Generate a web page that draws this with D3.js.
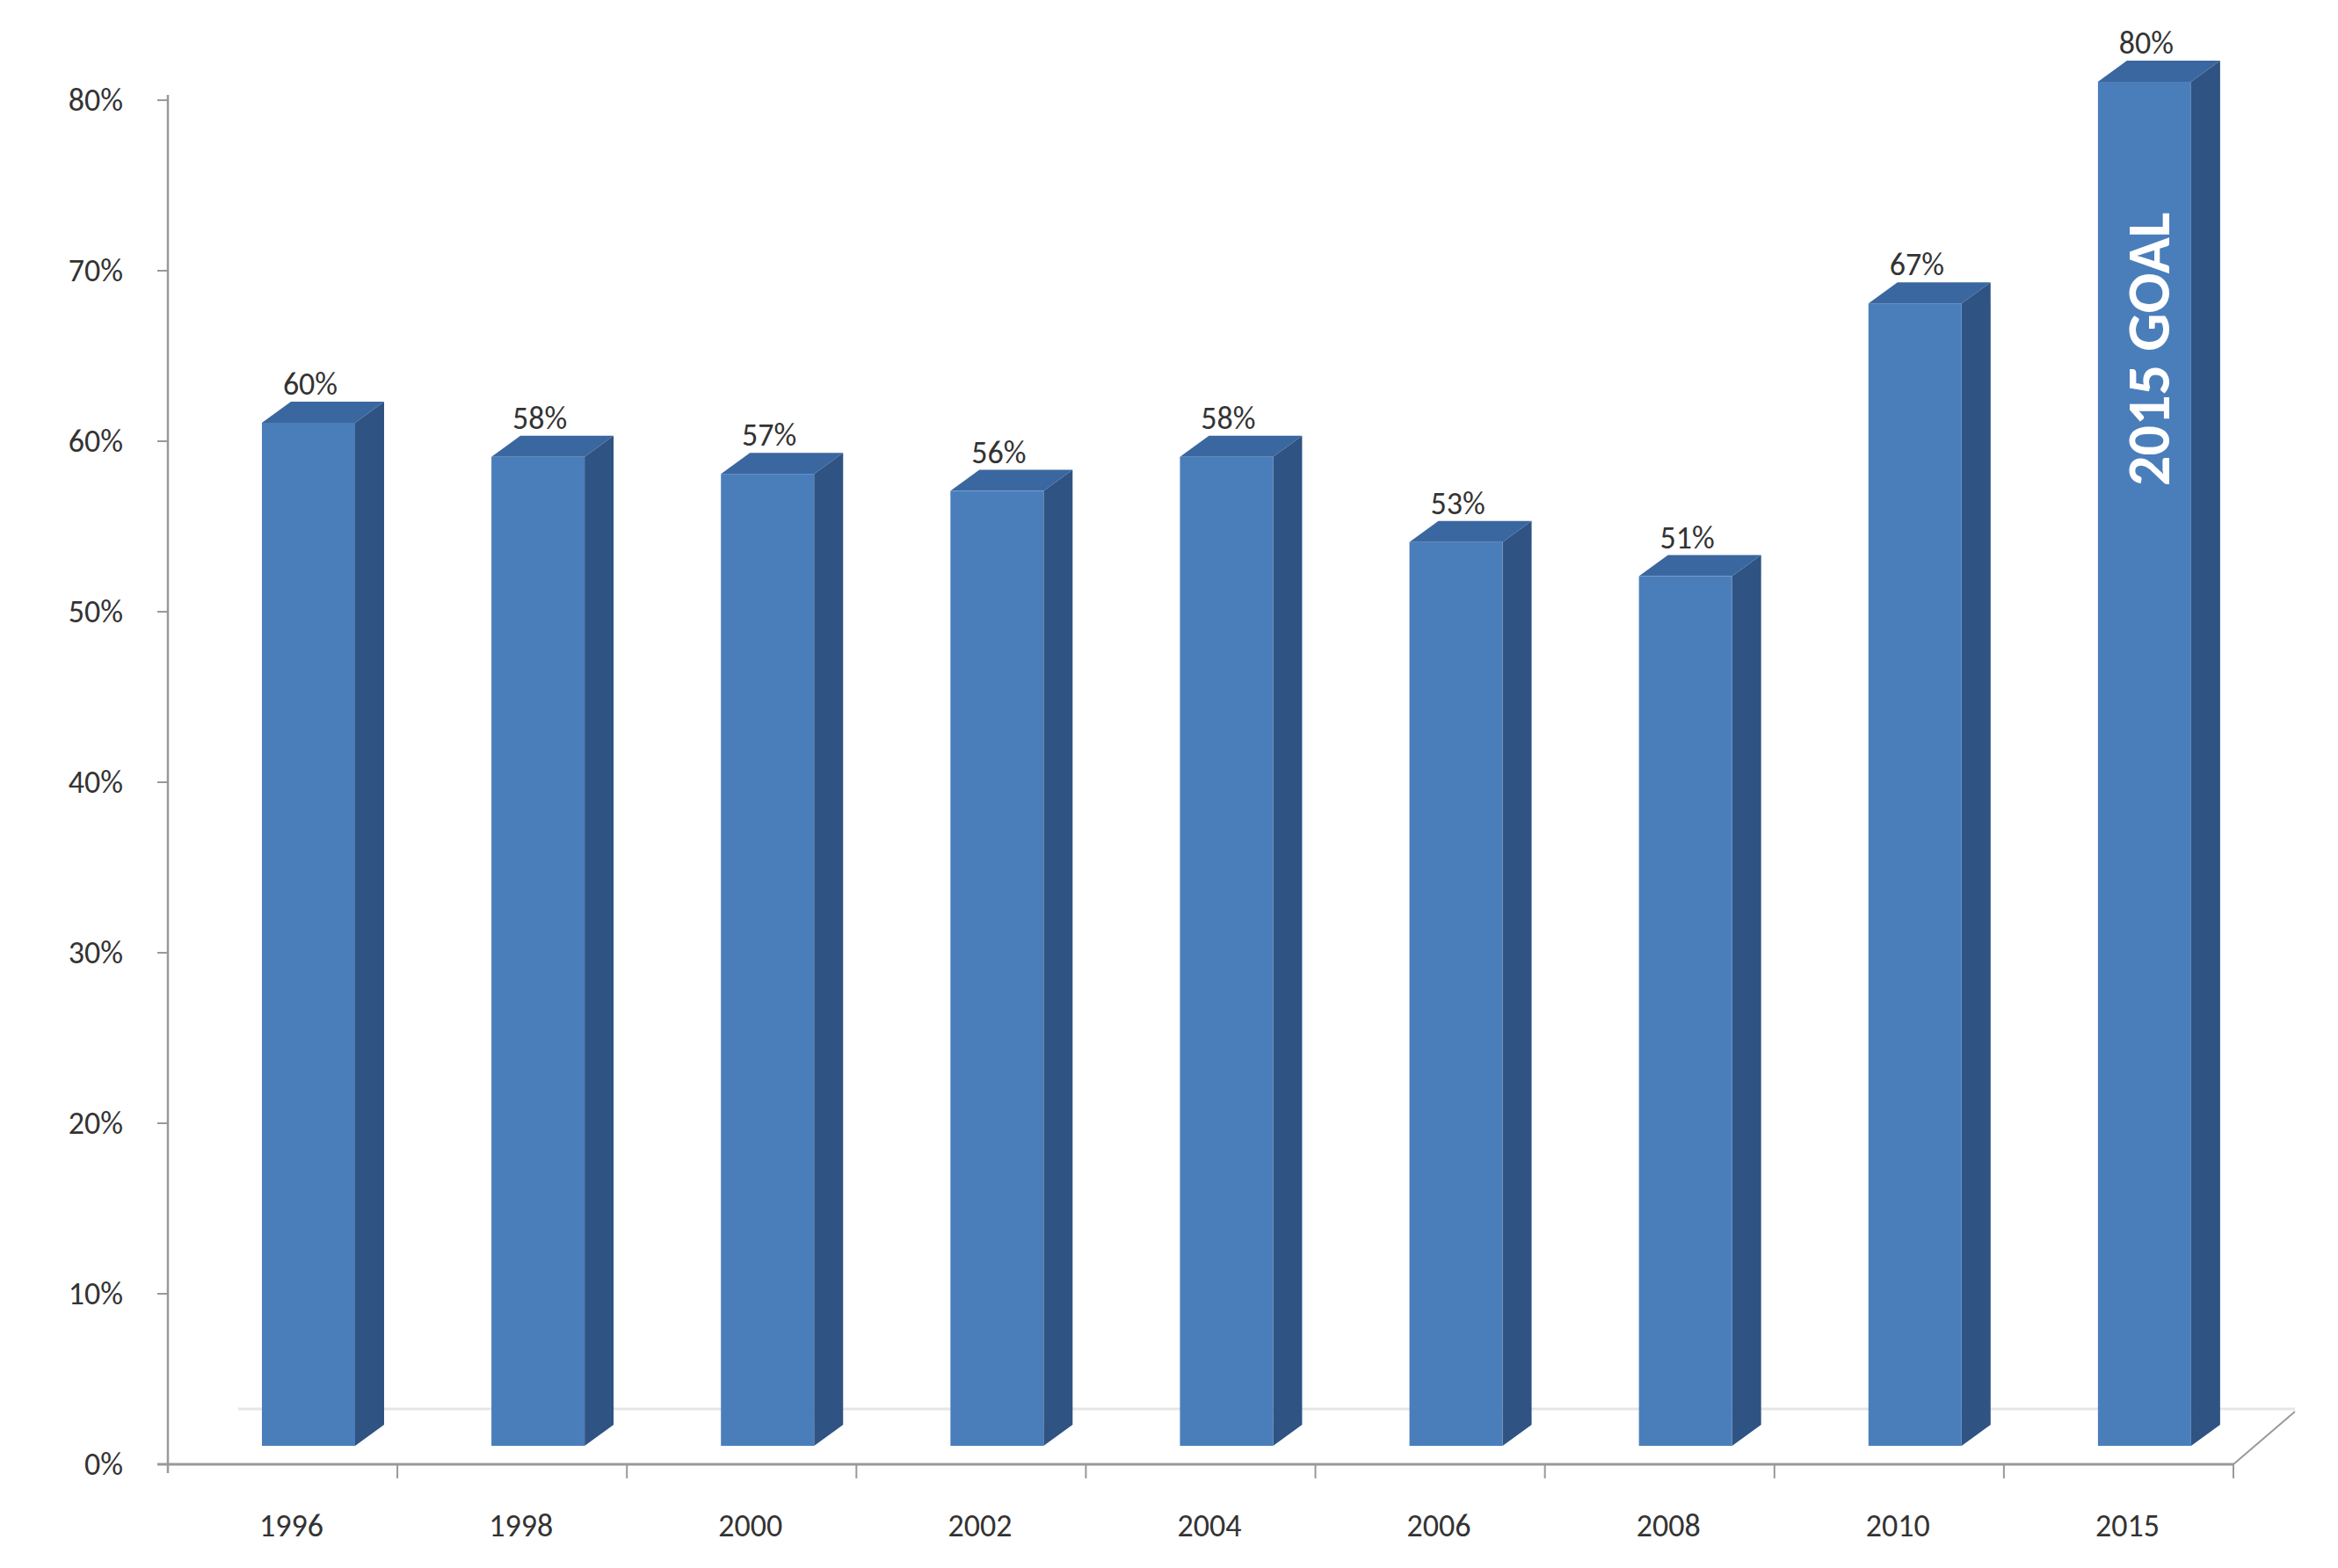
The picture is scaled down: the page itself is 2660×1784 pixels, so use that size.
<!DOCTYPE html>
<html><head><meta charset="utf-8">
<script src="https://cdn.jsdelivr.net/npm/d3@7"></script>
<style>body{margin:0;background:#fff}text{font-family:Calibri,Carlito,"Liberation Sans",sans-serif;fill:#333}</style>
</head><body><div id="chart"></div>
<script>
var categories = ["1996", "1998", "2000", "2002", "2004", "2006", "2008", "2010", "2015"];
var values = [60, 58, 57, 56, 58, 53, 51, 67, 80];
var yTicks = [0, 10, 20, 30, 40, 50, 60, 70, 80];

var W = 2660, H = 1784;
var x0 = 191, x1 = 2541, axisY = 1666, frontY = 1645;
var dx = 33, dy = -24;

var svg = d3.select("#chart").append("svg").attr("width", W).attr("height", H);

var x = d3.scaleBand().domain(categories).range([x0, x1]).padding(0);
// front face scale: 0 at front floor
var y = d3.scaleLinear().domain([0, 80]).range([frontY, frontY - 8 * 194]);
var yAxisScale = d3.scaleLinear().domain([0, 80]).range([axisY, 114]);

// floor
svg.append("line").attr("x1", x0 + 80).attr("x2", x1 + 70).attr("y1", 1603).attr("y2", 1603)
    .attr("stroke", "#e6e6e6").attr("stroke-width", 3);
svg.append("line").attr("x1", x1).attr("y1", axisY).attr("x2", x1 + 70).attr("y2", 1606)
    .attr("stroke", "#999").attr("stroke-width", 2);

// axes
svg.append("line").attr("x1", x0).attr("x2", x0).attr("y1", 108).attr("y2", axisY + 10)
    .attr("stroke", "#999").attr("stroke-width", 2.5);
svg.append("line").attr("x1", x0 - 12).attr("x2", x1).attr("y1", axisY).attr("y2", axisY)
    .attr("stroke", "#999").attr("stroke-width", 3);

yTicks.forEach(function(t) {
    var yy = yAxisScale(t);
    svg.append("line").attr("x1", x0 - 12).attr("x2", x0).attr("y1", yy).attr("y2", yy)
        .attr("stroke", "#999").attr("stroke-width", 2);
    svg.append("text").attr("x", 140).attr("y", yy + 12).attr("text-anchor", "end")
        .attr("font-size", 36).text(t + "%");
});

categories.forEach(function(c, i) {
    var bx = x(c);
    svg.append("line").attr("x1", bx + x.bandwidth()).attr("x2", bx + x.bandwidth())
        .attr("y1", axisY).attr("y2", axisY + 16).attr("stroke", "#999").attr("stroke-width", 2);
    svg.append("text").attr("x", bx + x.bandwidth() / 2 + 10).attr("y", axisY + 82)
        .attr("text-anchor", "middle").attr("font-size", 36).text(c);
});

var bw = 106, off = 107;
var g = svg.append("g");
categories.forEach(function(c, i) {
    var l = x(c) + off, r = l + bw, top = y(values[i]), bot = frontY;
    g.append("polygon").attr("fill", "#2f5382")
        .attr("points", [[r, top], [r + dx, top + dy], [r + dx, bot + dy], [r, bot]].join(" "));
    g.append("polygon").attr("fill", "#3a679f")
        .attr("points", [[l, top], [l + dx, top + dy], [r + dx, top + dy], [r, top]].join(" "));
    g.append("rect").attr("x", l).attr("y", top).attr("width", bw).attr("height", bot - top)
        .attr("fill", "#4a7ebb");
    g.append("text").attr("x", l + bw / 2 + 2).attr("y", top + dy - 8).attr("text-anchor", "middle")
        .attr("font-size", 36).text(values[i] + "%");
    if (c === "2015") {
        g.append("text").attr("transform", "translate(" + (l + bw / 2 + 28) + "," + (top + 460) + ") rotate(-90)")
            .attr("font-size", 68).attr("font-weight", "bold").style("fill", "#fff").text("2015 GOAL");
    }
});
</script></body></html>
